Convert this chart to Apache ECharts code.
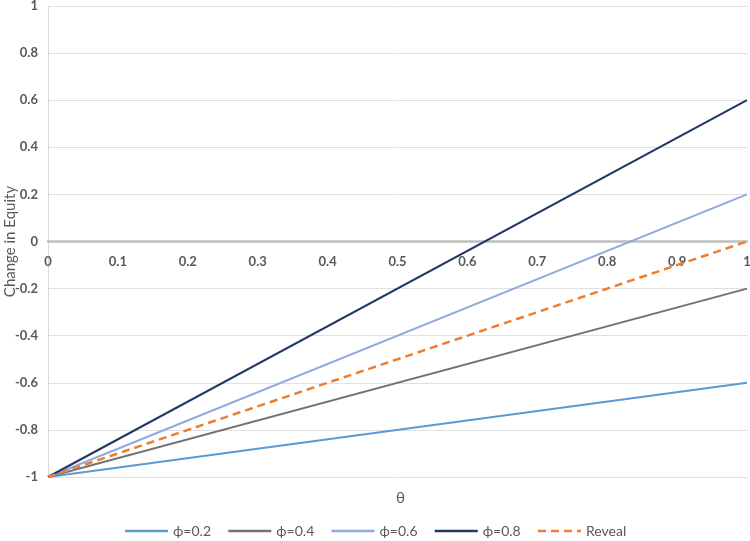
<!DOCTYPE html>
<html><head><meta charset="utf-8">
<script src="https://cdn.jsdelivr.net/npm/echarts@6/dist/echarts.min.js"></script>
<style>html,body{margin:0;padding:0;background:#fff}#c{width:750px;height:541px}</style>
</head><body><div id="c"></div>
<script>
const theta = [0, 1];
const phi02 = [-1, -0.6];
const phi04 = [-1, -0.2];
const phi06 = [-1, 0.2];
const phi08 = [-1, 0.6];
const reveal = [-1, 0];
const seriesNames = ['ϕ=0.2', 'ϕ=0.4', 'ϕ=0.6', 'ϕ=0.8', 'Reveal'];
const colors = ['#5B9BD5', '#737373', '#8FAADC', '#203864', '#ED7D31'];
const values = [phi02, phi04, phi06, phi08, reveal];

const chart = echarts.init(document.getElementById('c'));
const font = 'Lato, "Open Sans", sans-serif';
chart.setOption({
  animation: false,
  textStyle: { fontFamily: font },
  title: {
    text: 'θ', left: 391, top: 486,
    textStyle: { fontSize: 15, fontWeight: 'normal', color: '#595959', fontFamily: font }
  },
  grid: { left: 48, right: 3, top: 6, bottom: 64, containLabel: false, outerBoundsMode: 'none' },
  legend: {
    top: 519, left: 'center', itemWidth: 43, itemHeight: 14, itemGap: 16,
    textStyle: { fontSize: 14, color: '#595959', fontFamily: font },
    itemStyle: { opacity: 0, borderWidth: 0 },
    lineStyle: { width: 2.5 },
    data: seriesNames
  },
  xAxis: {
    type: 'value', min: 0, max: 1, interval: 0.1, position: 'bottom', offset: -236,
    axisLine: { onZero: false, lineStyle: { color: '#BFBFBF', width: 2.5 } },
    axisTick: { show: false },
    splitLine: { show: false },
    axisLabel: { margin: 14, fontSize: 13, fontWeight: 'bold', color: '#595959', fontFamily: font,
      formatter: v => String(Math.round(v * 10) / 10) }
  },
  yAxis: {
    type: 'value', min: -1, max: 1, interval: 0.2,
    name: 'Change in Equity', nameLocation: 'middle', nameGap: 30, nameRotate: 90,
    nameMoveOverlap: false,
    nameTextStyle: { fontSize: 15, color: '#595959', fontFamily: font },
    axisLine: { show: true, onZero: false, lineStyle: { color: '#D9D9D9', width: 1 } },
    axisTick: { show: false },
    splitLine: { lineStyle: { color: '#E0E0E0', width: 1 } },
    axisLabel: { margin: 10, fontSize: 13, fontWeight: 'bold', color: '#595959', fontFamily: font,
      formatter: v => String(Math.round(v * 10) / 10) }
  },
  series: seriesNames.map((n, i) => ({
    name: n, type: 'line', showSymbol: false, symbol: 'none',
    data: theta.map((t, j) => [t, values[i][j]]),
    lineStyle: { color: colors[i], width: i === 4 ? 2.5 : 2, type: i === 4 ? [8, 5] : 'solid' },
    itemStyle: { color: colors[i] },
    z: 3
  }))
});
</script></body></html>
